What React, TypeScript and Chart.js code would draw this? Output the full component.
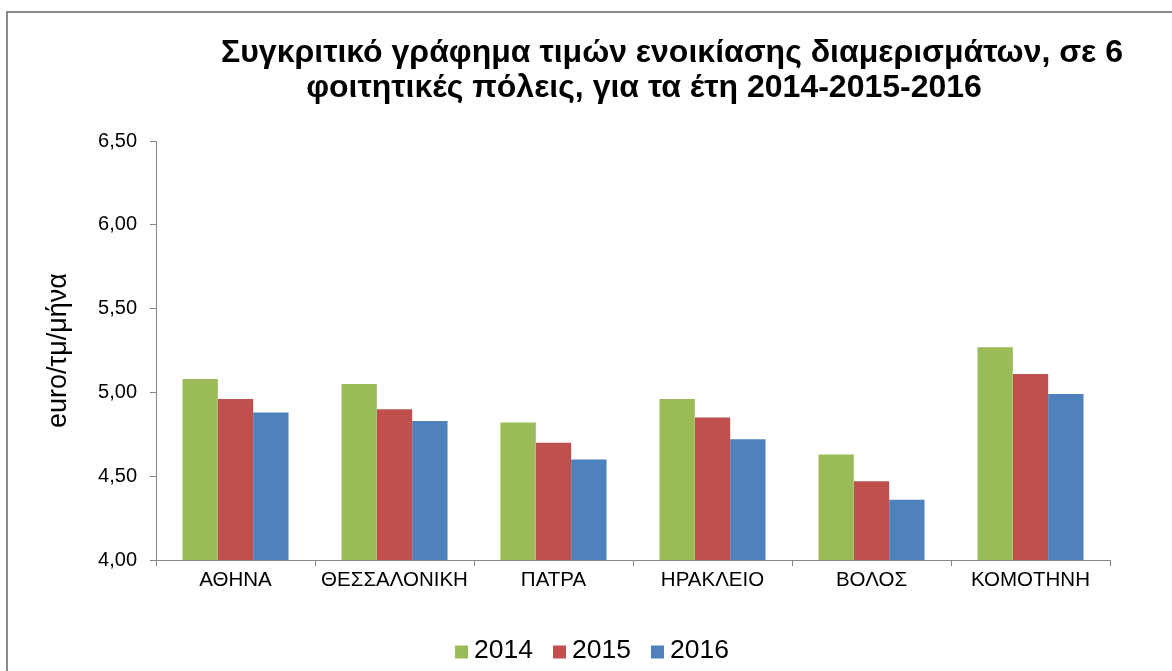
import React, { useEffect, useRef } from "react";
import { Chart, registerables } from "chart.js";

Chart.register(...registerables);

const categories = ["ΑΘΗΝΑ", "ΘΕΣΣΑΛΟΝΙΚΗ", "ΠΑΤΡΑ", "ΗΡΑΚΛΕΙΟ", "ΒΟΛΟΣ", "ΚΟΜΟΤΗΝΗ"];
const seriesLabels = ["2014", "2015", "2016"];
const values2014 = [5.08, 5.05, 4.82, 4.96, 4.63, 5.27];
const values2015 = [4.96, 4.9, 4.7, 4.85, 4.47, 5.11];
const values2016 = [4.88, 4.83, 4.6, 4.72, 4.36, 4.99];
const seriesColors = ["#9BBB59", "#C0504D", "#4F81BD"];
const yMin = 4;
const yMax = 6.5;
const yStep = 0.5;
const titleLines = [
  "Συγκριτικό γράφημα τιμών ενοικίασης διαμερισμάτων, σε 6",
  "φοιτητικές πόλεις, για τα έτη 2014-2015-2016",
];
const yAxisTitle = "euro/τμ/μήνα";

const FONT = "'Liberation Sans', Arial, sans-serif";
const AXIS_GRAY = "#868686";

const decorPlugin = {
  id: "decor",
  beforeDraw(chart: any) {
    const ctx = chart.ctx;
    ctx.save();
    ctx.fillStyle = "#ffffff";
    ctx.fillRect(0, 0, chart.width, chart.height);
    ctx.strokeStyle = "#898989";
    ctx.lineWidth = 2;
    ctx.strokeRect(7, 12, chart.width + 20, chart.height + 20);
    ctx.restore();
  },
  afterDraw(chart: any) {
    const ctx = chart.ctx;
    ctx.save();
    // Title
    ctx.fillStyle = "#000000";
    ctx.font = `bold 32px ${FONT}`;
    ctx.textAlign = "center";
    ctx.textBaseline = "alphabetic";
    const centers = [672, 644];
    const baselines = [62, 97];
    titleLines.forEach((line, i) => {
      ctx.fillText(line, centers[i], baselines[i]);
    });
    // Legend
    ctx.font = `26.5px ${FONT}`;
    ctx.textAlign = "left";
    ctx.textBaseline = "middle";
    const box = 13;
    const gapText = 6;
    const gapItem = 20;
    const items = chart.data.datasets.map((ds: any) => ({
      label: ds.label,
      color: ds.backgroundColor,
      w: ctx.measureText(ds.label).width,
    }));
    const total =
      items.reduce((s: number, it: any) => s + box + gapText + it.w, 0) +
      gapItem * (items.length - 1);
    let x = 592 - total / 2;
    const cy = 651;
    items.forEach((it: any) => {
      ctx.fillStyle = it.color;
      ctx.fillRect(x, cy - box / 2 + 1, box, box);
      x += box + gapText;
      ctx.fillStyle = "#000000";
      ctx.fillText(it.label, x, cy);
      x += it.w + gapItem;
    });
    ctx.restore();
  },
};

export default function App() {
  const ref = useRef<HTMLCanvasElement | null>(null);

  useEffect(() => {
    if (!ref.current) return;
    const chart = new Chart(ref.current, {
      type: "bar",
      data: {
        labels: categories,
        datasets: [values2014, values2015, values2016].map((vals, i) => ({
          label: seriesLabels[i],
          data: vals,
          backgroundColor: seriesColors[i],
          borderWidth: 0,
          categoryPercentage: 0.667,
          barPercentage: 1,
        })),
      },
      options: {
        responsive: false,
        animation: false,
        layout: { padding: { top: 141, right: 62, left: 0, bottom: 0 } },
        plugins: {
          legend: { display: false },
          title: { display: false },
          tooltip: { enabled: false },
        },
        scales: {
          x: {
            afterFit: (s: any) => {
              s.height = 111;
            },
            grid: {
              display: true,
              drawOnChartArea: false,
              drawTicks: true,
              tickLength: 6,
              color: AXIS_GRAY,
              offset: true,
            },
            border: { display: true, color: AXIS_GRAY, width: 1 },
            ticks: {
              color: "#000000",
              font: { family: FONT, size: 20.5 },
              padding: 2,
              maxRotation: 0,
              autoSkip: false,
            },
          },
          y: {
            min: yMin,
            max: yMax,
            afterFit: (s: any) => {
              s.width = 156;
            },
            grid: {
              display: true,
              drawOnChartArea: false,
              drawTicks: true,
              tickLength: 6,
              color: AXIS_GRAY,
            },
            border: { display: true, color: AXIS_GRAY, width: 1 },
            ticks: {
              stepSize: yStep,
              color: "#000000",
              font: { family: FONT, size: 20 },
              padding: 13,
              callback: (v: any) => Number(v).toFixed(2).replace(".", ","),
            },
            title: {
              display: true,
              text: yAxisTitle,
              color: "#000000",
              font: { family: FONT, size: 27 },
              padding: { top: 42, bottom: 0 },
            },
          },
        },
      },
      plugins: [decorPlugin],
    });
    return () => chart.destroy();
  }, []);

  return (
    <div style={{ position: "absolute", left: 0, top: 0, width: 1172, height: 671 }}>
      <canvas ref={ref} width={1172} height={671} style={{ width: 1172, height: 671, display: "block" }} />
    </div>
  );
}
